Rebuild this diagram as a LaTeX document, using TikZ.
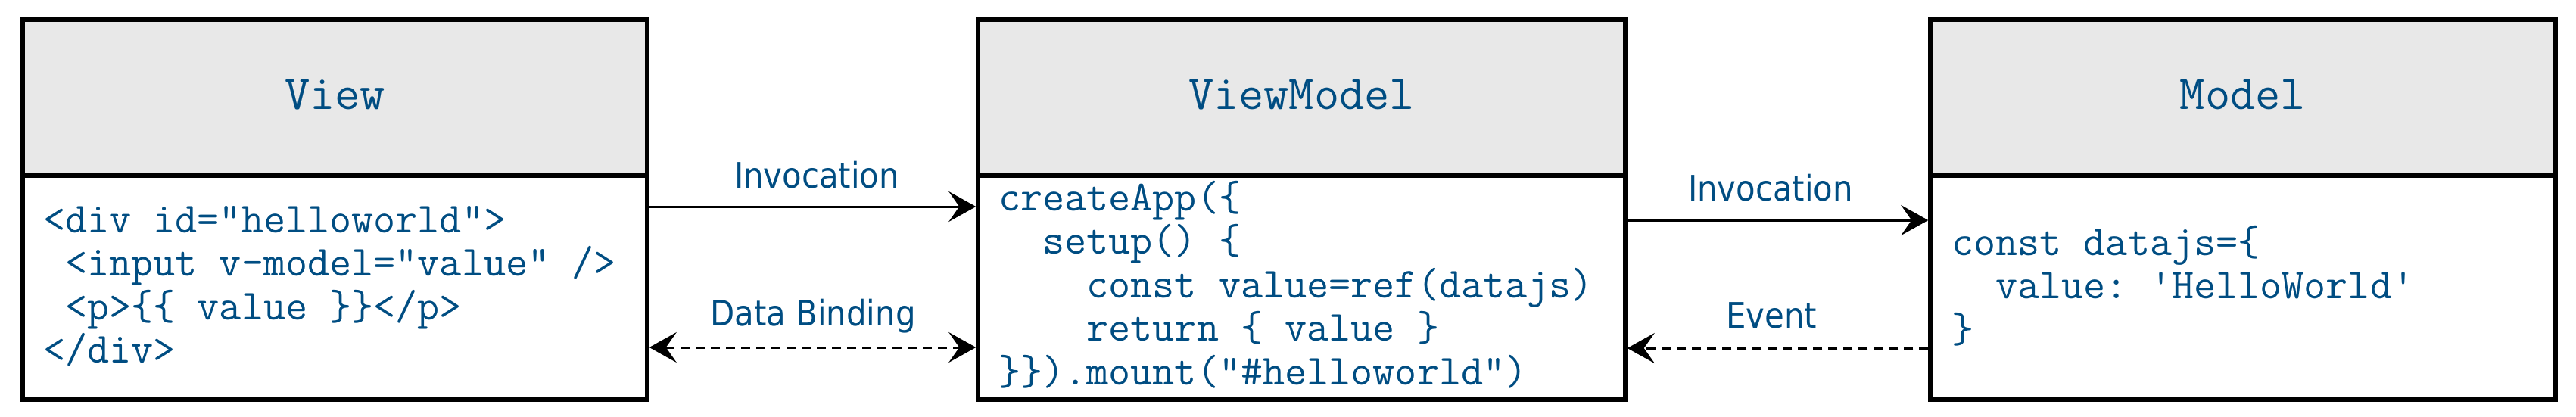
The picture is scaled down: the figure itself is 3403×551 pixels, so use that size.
\documentclass[tikz,border=0pt]{standalone}
\usepackage{fontspec}
\usetikzlibrary{arrows.meta}
\newfontfamily\lblfont{DejaVu Sans Condensed}
\definecolor{txtblue}{RGB}{0,77,130}
\definecolor{headgray}{RGB}{232,232,232}
\newcommand\codelines[1]{\vtop{\frenchspacing\baselineskip=57.5pt\lineskiplimit=-1000pt\lineskip=0pt #1}}
\begin{document}
\begin{tikzpicture}[x=1pt,y=-1pt,
  boxframe/.style={draw=black, line width=5.5pt, minimum height=502pt, inner sep=0pt},
  headbox/.style={draw=black, fill=headgray, line width=5.5pt, minimum height=206pt, inner sep=0pt},
  title/.style={text=txtblue, font=\fontsize{64.5}{70}\selectfont\ttfamily, inner sep=0pt, anchor=base},
  code/.style={text=txtblue, font=\fontsize{56.5}{57.5}\selectfont\ttfamily\frenchspacing, inner sep=0pt, anchor=base west},
  lbl/.style={text=txtblue, font=\lblfont\fontsize{46.5}{52}\selectfont, inner sep=0pt, anchor=base},
  arr/.style={line width=3pt, -{Stealth[length=36pt, width=40pt, inset=14pt]}},
  darr/.style={line width=3pt, dash pattern=on 12pt off 8pt, {Stealth[length=36pt, width=40pt, inset=14pt]}-{Stealth[length=36pt, width=40pt, inset=14pt]}},
  larr/.style={line width=3pt, dash pattern=on 12pt off 8pt, -{Stealth[length=36pt, width=40pt, inset=14pt]}}
]
\useasboundingbox (0,0) rectangle (3403,551);

% headers
\node[headbox, minimum width=825pt] (vhead) at (442.5,129) {};
\node[headbox, minimum width=855pt] (vmhead) at (1719.5,129) {};
\node[headbox, minimum width=826pt] (mhead) at (2963,129) {};

% frames
\node[boxframe, minimum width=825pt] (view) at (442.5,277) {};
\node[boxframe, minimum width=855pt] (vm) at (1719.5,277) {};
\node[boxframe, minimum width=826pt] (model) at (2963,277) {};

% titles
\node[title] (vtitle) at (442.5,144) {View};
\node[title] (vmtitle) at (1719.5,144) {ViewModel};
\node[title] (mtitle) at (2963,144) {Model};

% code
\node[code] (vcode) at (57,307) {\codelines{%
\hbox{<div id="helloworld">}
\hbox{\ <input v-model="value" />}
\hbox{\ <p>\{\{ value \}\}</p>}
\hbox{</div>}}};

\node[code] (vmcode) at (1319,278) {\codelines{%
\hbox{createApp(\{}
\hbox{\ \ setup() \{}
\hbox{\ \ \ \ const value=ref(datajs)}
\hbox{\ \ \ \ return \{ value \}}
\hbox{\}\}).mount("\#helloworld")}}};

\node[code] (mcode) at (2578,337) {\codelines{%
\hbox{const datajs=\{}
\hbox{\ \ value: 'HelloWorld'}
\hbox{\}}}};

% connectors
\draw[arr] (view.east |- 0,273) -- (vm.west |- 0,273);
\draw[darr] (view.east |- 0,459) -- (vm.west |- 0,459);
\draw[arr] (vm.east |- 0,291) -- (model.west |- 0,291);
\draw[larr] (model.west |- 0,460) -- (vm.east |- 0,460);

% labels
\node[lbl] (linv1) at (1079,248) {Invocation};
\node[lbl] (ldb) at (1074,430) {Data Binding};
\node[lbl] (linv2) at (2339,265) {Invocation};
\node[lbl] (lev) at (2340,433) {Event};
\end{tikzpicture}
\end{document}
